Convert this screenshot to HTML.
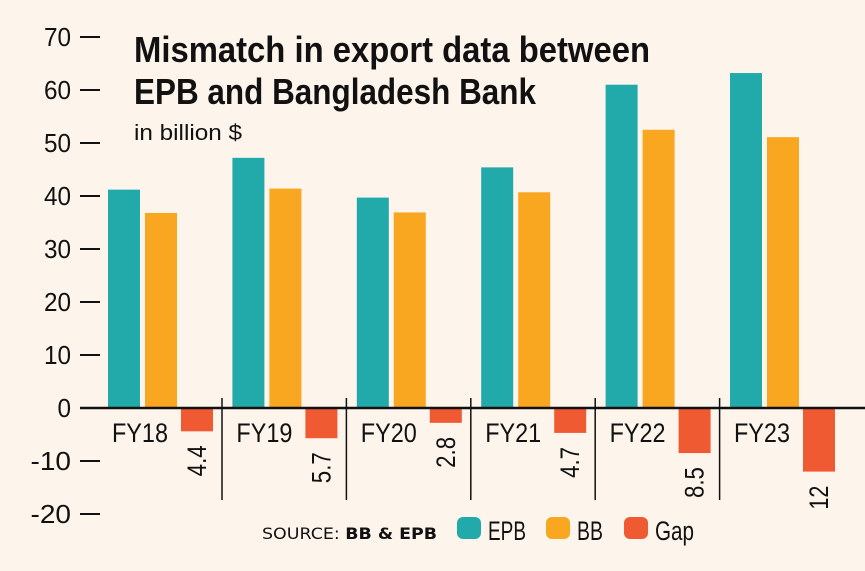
<!DOCTYPE html>
<html><head><meta charset="utf-8"><style>
html,body{margin:0;padding:0;background:#fdf4ec;}
svg{display:block;font-family:"Liberation Sans Narrow","Liberation Sans",sans-serif;}
</style></head><body>
<svg id="chart" width="865" height="571" viewBox="0 0 865 571">
<rect width="865" height="571" fill="#fdf4ec"/>
<g id="yaxis"></g>
<g id="bars"></g>
<text x="134" y="62" font-size="36" font-weight="bold" fill="#111" textLength="516" lengthAdjust="spacingAndGlyphs">Mismatch in export data between</text>
<text x="134" y="104" font-size="36" font-weight="bold" fill="#111" textLength="402" lengthAdjust="spacingAndGlyphs">EPB and Bangladesh Bank</text>
<text x="134" y="140" font-size="22" fill="#111" textLength="108" lengthAdjust="spacingAndGlyphs">in billion $</text>
<text x="262" y="539" font-size="16" fill="#111" font-family="DejaVu Sans,sans-serif" textLength="175" lengthAdjust="spacingAndGlyphs">SOURCE: <tspan font-weight="bold">BB &amp; EPB</tspan></text>
<g>
<rect x="457" y="517" width="24" height="22" rx="6" fill="#22aaaa"/>
<text x="488" y="540" font-size="27" fill="#111" textLength="38" lengthAdjust="spacingAndGlyphs">EPB</text>
<rect x="546" y="517" width="24" height="22" rx="6" fill="#f9a620"/>
<text x="577" y="540" font-size="27" fill="#111" textLength="26" lengthAdjust="spacingAndGlyphs">BB</text>
<rect x="624" y="517" width="24" height="22" rx="6" fill="#f05a32"/>
<text x="655" y="540" font-size="27" fill="#111" textLength="39" lengthAdjust="spacingAndGlyphs">Gap</text>
</g>
</svg>
<script>
const categories=["FY18","FY19","FY20","FY21","FY22","FY23"];
const epbValues=[41.2,47.2,39.7,45.4,61.0,63.2];
const bbValues=[36.8,41.4,36.9,40.7,52.5,51.1];
const gapValues=[4.4,5.7,2.8,4.7,8.5,12];
const gapLabels=["4.4","5.7","2.8","4.7","8.5","12"];
const yTicks=[70,60,50,40,30,20,10,0,-10,-20];

const NS="http://www.w3.org/2000/svg";
const y=v=>408-v*5.3;
const gx=i=>108+i*124.4;
const bw=32;
function mk(tag,attrs,parent){const e=document.createElementNS(NS,tag);for(const k in attrs)e.setAttribute(k,attrs[k]);parent.appendChild(e);return e;}
const ya=document.getElementById('yaxis');
yTicks.forEach(t=>{
  const s=String(t);
  const tx=mk('text',{x:71,y:y(t)+9,'font-size':26,'text-anchor':'end',fill:'#111',textLength:s.length*13.5,lengthAdjust:'spacingAndGlyphs'},ya);
  tx.textContent=s;
  
  
  const l=mk('line',{x1:80,x2:100,y1:y(t),y2:y(t),stroke:'#111','stroke-width':2},ya);
  
  
});
const bars=document.getElementById('bars');
categories.forEach((c,i)=>{
  const x0=gx(i);
  const r1=mk('rect',{x:x0,y:y(epbValues[i]),width:bw,height:y(0)-y(epbValues[i]),fill:'#22aaaa'},bars);
  
  
  const r2=mk('rect',{x:x0+37,y:y(bbValues[i]),width:bw,height:y(0)-y(bbValues[i]),fill:'#f9a620'},bars);
  
  
  const r3=mk('rect',{x:x0+73,y:y(0),width:bw,height:y(-gapValues[i])-y(0),fill:'#f05a32'},bars);
  
  
  const lb=mk('text',{x:x0+4,y:442,'font-size':27,fill:'#111',textLength:56,lengthAdjust:'spacingAndGlyphs'},bars);
  lb.textContent=c;
  
  
  const gy=y(-gapValues[i])+14;
  const gs=gapLabels[i];
  const gl=mk('text',{x:0,y:0,'font-size':27,'text-anchor':'end',fill:'#111',textLength:gs.length===3?31:24,lengthAdjust:'spacingAndGlyphs',transform:`translate(${x0+98},${gy}) rotate(-90)`},bars);
  gl.textContent=gs;
  
  
  if(i<categories.length-1){
    const s=mk('line',{x1:x0+114,x2:x0+114,y1:398,y2:500,stroke:'#111','stroke-width':1.5},bars);
    
    
  }
});
const zl=mk('line',{x1:80,x2:865,y1:y(0),y2:y(0),stroke:'#111','stroke-width':2.5},bars);


</script>
</body></html>
